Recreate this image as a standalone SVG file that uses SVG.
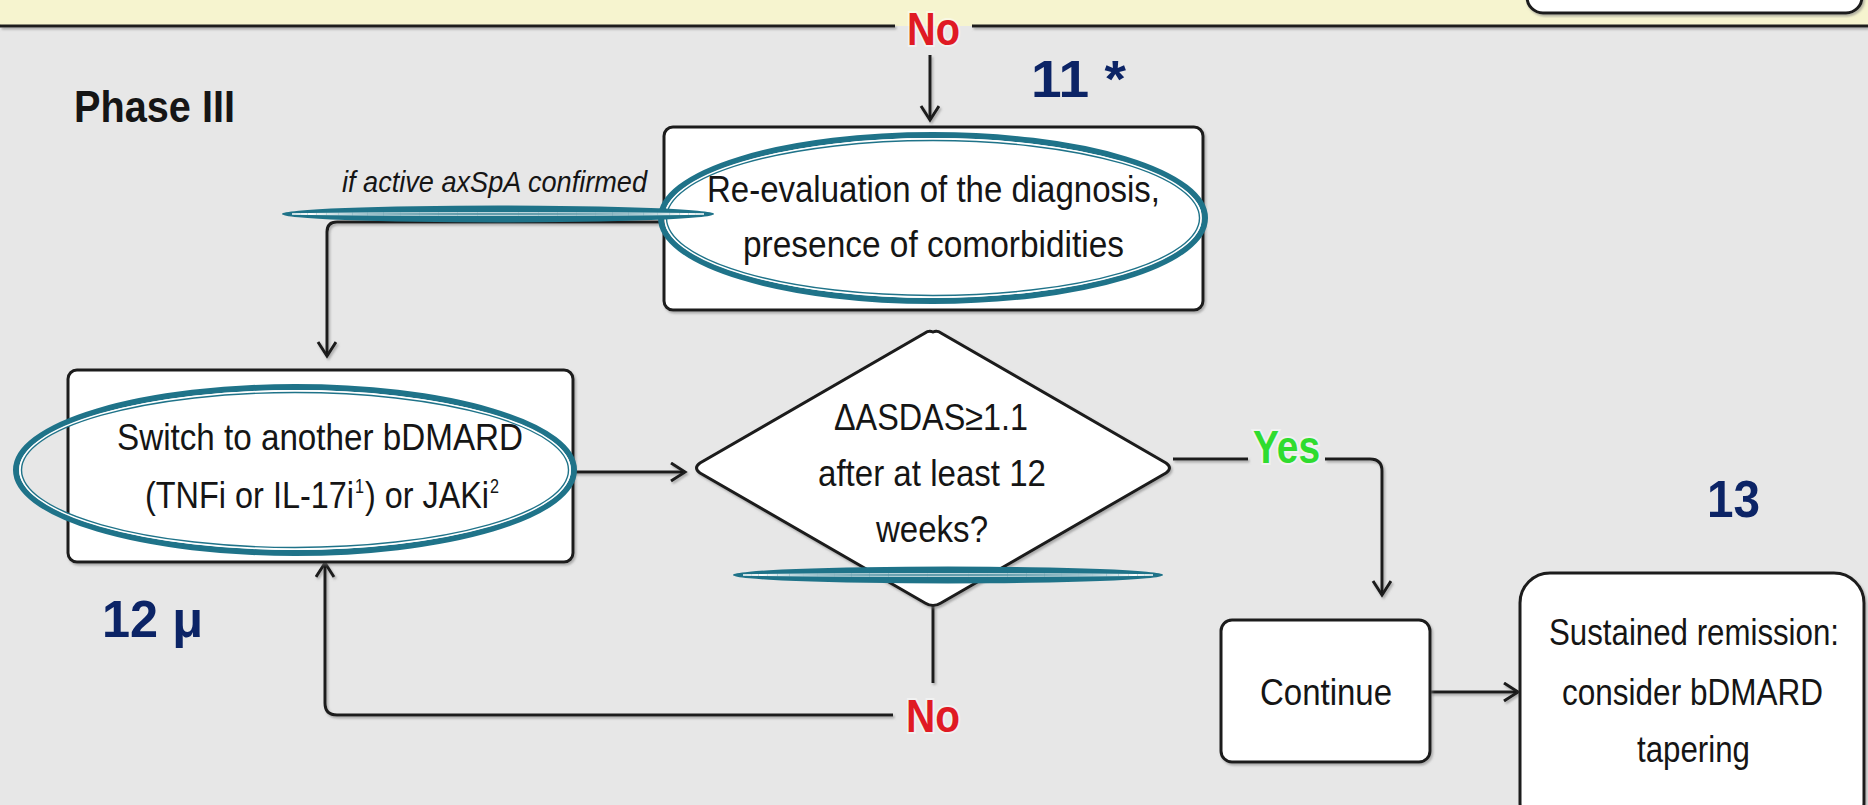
<svg xmlns="http://www.w3.org/2000/svg" width="1868" height="805" viewBox="0 0 1868 805">
<defs>
<style>
.bg{fill:#e7e7e7}
.node{fill:#ffffff;stroke:#1a1a1a;stroke-width:3;filter:url(#sh)}
.t{font-family:"Liberation Sans Narrow","Liberation Sans",Arial,sans-serif;font-size:37px;fill:#151515}
.sup{font-family:"Liberation Sans Narrow","Liberation Sans",Arial,sans-serif;font-size:20px;fill:#151515}
.lbl{font-family:"Liberation Sans Narrow","Liberation Sans",Arial,sans-serif;font-weight:bold;font-size:46px;paint-order:stroke;stroke:#ffffff;stroke-opacity:.45;stroke-width:4}
.no{fill:#e01a24}
.yes{fill:#2fdc2f}
.num{font-family:"Liberation Sans Narrow","Liberation Sans",Arial,sans-serif;font-weight:bold;font-size:52px;fill:#0c2466}
.conn{fill:none;stroke:#1a1a1a;stroke-width:3;filter:url(#shl)}
.hl{fill:none;stroke:#1f7389;stroke-width:6}
.hlw{fill:none;stroke:#ffffff;stroke-width:1.8}
.hlt{fill:none;stroke:#1f7389;stroke-width:1.4}
</style>
<filter id="sh" x="-5%" y="-5%" width="110%" height="115%">
<feDropShadow dx="1.5" dy="2" stdDeviation="1.2" flood-color="#777777" flood-opacity="0.55"/>
</filter>
<filter id="shl" filterUnits="userSpaceOnUse" x="-10" y="-40" width="1900" height="860">
<feDropShadow dx="1.5" dy="2" stdDeviation="1.2" flood-color="#777777" flood-opacity="0.55"/>
</filter>
<marker id="arr" markerUnits="userSpaceOnUse" markerWidth="26" markerHeight="26" refX="15" refY="10" orient="auto">
<path d="M1,1 L15,10 L1,19" fill="none" stroke="#1a1a1a" stroke-width="3" stroke-linejoin="miter"/>
</marker>
</defs>

<rect class="bg" x="0" y="0" width="1868" height="805"/>
<rect x="0" y="0" width="1868" height="26" fill="#f6f4cf"/>

<g id="top-box">
<rect x="1527" y="-30" width="335" height="43" rx="16" fill="#ffffff" stroke="#1a1a1a" stroke-width="3" filter="url(#sh)"/>
</g>

<g id="phase-line">
<line x1="0" y1="26" x2="895" y2="26" class="conn"/>
<line x1="972" y1="26" x2="1868" y2="26" class="conn"/>
</g>

<text x="74" y="122" class="t" style="font-weight:bold;font-size:44px" textLength="161" lengthAdjust="spacingAndGlyphs">Phase III</text>

<g id="connectors">
<line x1="930" y1="55" x2="930" y2="120" class="conn" marker-end="url(#arr)"/>
<path d="M664,222 L337,222 Q327,222 327,232 L327,356" class="conn" marker-end="url(#arr)"/>
<line x1="573" y1="472" x2="685" y2="472" class="conn" marker-end="url(#arr)"/>
<path d="M1173,459 L1248,459" class="conn"/>
<path d="M1325,459 L1370,459 Q1382,459 1382,471 L1382,595" class="conn" marker-end="url(#arr)"/>
<line x1="1430" y1="692" x2="1518" y2="692" class="conn" marker-end="url(#arr)"/>
<line x1="933" y1="605" x2="933" y2="683" class="conn"/>
<path d="M893,715 L337,715 Q325,715 325,703 L325,563" class="conn" marker-end="url(#arr)"/>
<text x="907" y="45" class="lbl no" textLength="53" lengthAdjust="spacingAndGlyphs">No</text>
<text x="1253" y="463" class="lbl yes" textLength="67" lengthAdjust="spacingAndGlyphs">Yes</text>
<text x="906" y="732" class="lbl no" textLength="54" lengthAdjust="spacingAndGlyphs">No</text>
<text x="342" y="192" class="t" style="font-style:italic;font-size:30px" textLength="305" lengthAdjust="spacingAndGlyphs">if active axSpA confirmed</text>
</g>

<g id="node-reevaluation">
<rect x="664" y="127" width="539" height="183" rx="9" class="node"/>
<text x="707" y="202" class="t" textLength="453" lengthAdjust="spacingAndGlyphs">Re-evaluation of the diagnosis,</text>
<text x="743" y="257" class="t" textLength="381" lengthAdjust="spacingAndGlyphs">presence of comorbidities</text>
</g>

<g id="node-switch">
<rect x="68" y="370" width="505" height="192" rx="9" class="node"/>
<text x="117" y="450" class="t" textLength="406" lengthAdjust="spacingAndGlyphs">Switch to another bDMARD</text>
<text x="145" y="508" class="t" textLength="209" lengthAdjust="spacingAndGlyphs">(TNFi or IL-17i</text>
<text x="355" y="493" class="sup" textLength="9" lengthAdjust="spacingAndGlyphs">1</text>
<text x="365" y="508" class="t" textLength="124" lengthAdjust="spacingAndGlyphs">) or JAKi</text>
<text x="490" y="493" class="sup" textLength="9" lengthAdjust="spacingAndGlyphs">2</text>
</g>

<g id="node-decision">
<path d="M933,332 Q937,330 941,333 L1166,463 Q1173,468 1166,473 L941,603 Q933,608 925,603 L700,473 Q693,468 700,463 L925,333 Q929,330 933,332 Z" class="node"/>
<text x="834" y="430" class="t" textLength="194" lengthAdjust="spacingAndGlyphs">ΔASDAS≥1.1</text>
<text x="818" y="486" class="t" textLength="228" lengthAdjust="spacingAndGlyphs">after at least 12</text>
<text x="876" y="542" class="t" textLength="112" lengthAdjust="spacingAndGlyphs">weeks?</text>
</g>

<g id="node-continue">
<rect x="1221" y="620" width="209" height="142" rx="11" class="node"/>
<text x="1260" y="705" class="t" textLength="132" lengthAdjust="spacingAndGlyphs">Continue</text>
</g>

<g id="node-remission">
<rect x="1520" y="573" width="344" height="260" rx="30" class="node"/>
<text x="1549" y="645" class="t" textLength="290" lengthAdjust="spacingAndGlyphs">Sustained remission:</text>
<text x="1562" y="705" class="t" textLength="261" lengthAdjust="spacingAndGlyphs">consider bDMARD</text>
<text x="1637" y="762" class="t" textLength="113" lengthAdjust="spacingAndGlyphs">tapering</text>
</g>

<g id="annotations">
<ellipse cx="933" cy="218" rx="272" ry="83" class="hl"/>
<ellipse cx="933" cy="218" rx="268" ry="79" class="hlw"/>
<ellipse cx="933" cy="218" rx="266.5" ry="77.5" class="hlt"/>
<ellipse cx="295" cy="470" rx="279" ry="83" class="hl"/>
<ellipse cx="295" cy="470" rx="275" ry="79" class="hlw"/>
<ellipse cx="295" cy="470" rx="273.5" ry="77.5" class="hlt"/>
<ellipse cx="498" cy="214" rx="216" ry="8.5" fill="#1f7389"/>
<ellipse cx="498" cy="214" rx="206" ry="1.2" fill="none" stroke="#ffffff" stroke-width="1"/>
<ellipse cx="948" cy="575" rx="215" ry="8.5" fill="#1f7389"/>
<ellipse cx="948" cy="575" rx="205" ry="1.2" fill="none" stroke="#ffffff" stroke-width="1"/>
<text x="1031" y="97" class="num" textLength="95" lengthAdjust="spacingAndGlyphs">11 *</text>
<text x="102" y="637" class="num" textLength="101" lengthAdjust="spacingAndGlyphs">12 μ</text>
<text x="1707" y="517" class="num" textLength="53" lengthAdjust="spacingAndGlyphs">13</text>
</g>
</svg>
